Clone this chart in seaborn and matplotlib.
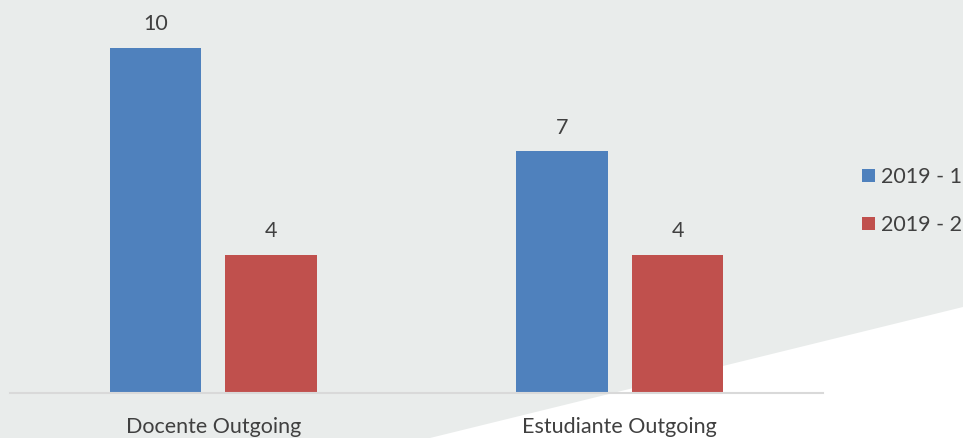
import numpy as np
import pandas as pd
import matplotlib
matplotlib.use("Agg")
import matplotlib.pyplot as plt
from matplotlib.patches import Polygon
import seaborn as sns

categorias = ["Docente Outgoing", "Estudiante Outgoing"]
periodos = ["2019 - 1", "2019 - 2"]
valores_2019_1 = [10, 7]
valores_2019_2 = [4, 4]
colores = ["#4F81BD", "#C0504D"]

df = pd.DataFrame({
    "categoria": categorias * 2,
    "periodo": [periodos[0]] * 2 + [periodos[1]] * 2,
    "valor": valores_2019_1 + valores_2019_2,
})

sns.set_style("white")
plt.rcParams["font.family"] = ["Lato", "DejaVu Sans"]

W, H = 963, 438
fig = plt.figure(figsize=(W / 100, H / 100), dpi=100)
fig.patch.set_facecolor("#E9ECEB")

# white wedge lower right (background decoration)
wedge = Polygon([(963 / W, 1 - 307 / H), (1, 0), (430 / W, 0)],
                closed=True, transform=fig.transFigure, facecolor="white",
                edgecolor="none", zorder=-5)
fig.patches.append(wedge)

ax = fig.add_axes([10 / W, 1 - 393 / H, 813 / W, 393 / H])
ax.set_facecolor("none")
ax.set_zorder(2)

sns.barplot(data=df, x="categoria", y="valor", hue="periodo",
            palette=colores, width=0.569, gap=0.208, ax=ax,
            saturation=1, errorbar=None, linewidth=0)

for cont in ax.containers:
    ax.bar_label(cont, padding=10, fontsize=15.5, color="#404040")

ax.set_ylim(0, 11.39)
ax.set_xlim(-0.5, 1.5)
ax.set_xlabel("")
ax.set_ylabel("")
ax.set_yticks([])
for s in ["top", "right", "left"]:
    ax.spines[s].set_visible(False)
ax.spines["bottom"].set_color("#D9D9D9")
ax.spines["bottom"].set_linewidth(1.5)
ax.tick_params(axis="x", length=0, pad=17, labelsize=15.5, labelcolor="#404040")

leg = ax.legend(loc="center left", bbox_to_anchor=(862 / W, 1 - 201 / H),
                bbox_transform=fig.transFigure, frameon=False, fontsize=15.5,
                handlelength=0.6, handleheight=0.6, handletextpad=0.3,
                labelspacing=1.3, borderaxespad=0, borderpad=0)
for t in leg.get_texts():
    t.set_color("#404040")

fig.savefig("out.png", dpi=100, facecolor=fig.get_facecolor())
